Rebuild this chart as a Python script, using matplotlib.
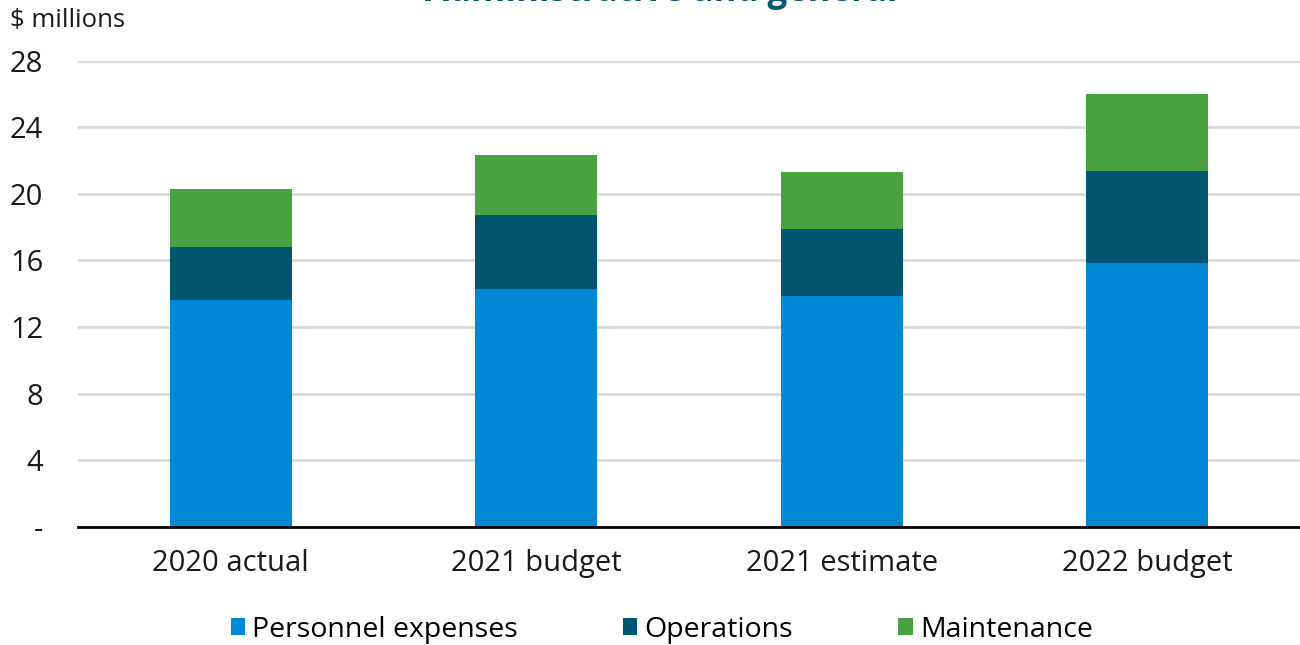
import matplotlib
matplotlib.use("Agg")
import matplotlib.pyplot as plt
import numpy as np

plt.rcParams["font.family"] = ["Open Sans", "DejaVu Sans"]

# budget categories and stacked components ($ millions)
categories = ["2020 actual", "2021 budget", "2021 estimate", "2022 budget"]
personnel = [13.65, 14.30, 13.88, 15.87]
operations = [3.18, 4.41, 4.03, 5.52]
maintenance = [3.48, 3.65, 3.42, 4.63]
series_names = ["Personnel expenses", "Operations", "Maintenance"]
yticks = [0, 4, 8, 12, 16, 20, 24, 28]
ytick_labels = ["-", "4", "8", "12", "16", "20", "24", "28"]

COLORS = ["#0088D6", "#00566F", "#4AA140"]
TITLE_COLOR = "#00566F"

fig = plt.figure(figsize=(13, 6.45), dpi=100)
ax = fig.add_axes([0.06, 0.183, 0.94, 0.723])

x = np.arange(len(categories))
bottom = np.zeros(len(categories))
for vals, name, col in zip([personnel, operations, maintenance], series_names, COLORS):
    ax.bar(x, vals, width=0.4, bottom=bottom, color=col, label=name, zorder=3)
    bottom += np.array(vals)

ax.set_xlim(-0.5, 3.5)
ax.set_ylim(0, 28)
ax.set_yticks(yticks)
ax.set_yticklabels(ytick_labels)
ax.set_xticks(x)
ax.set_xticklabels(categories)
ax.grid(axis="y", color="#D9D9D9", linewidth=2, zorder=0)
for s in ["top", "right", "left"]:
    ax.spines[s].set_visible(False)
ax.spines["bottom"].set_color("#000000")
ax.spines["bottom"].set_linewidth(2)
ax.spines["bottom"].set_zorder(4)
ax.tick_params(axis="both", length=0, labelsize=21, colors="#1a1a1a")
ax.tick_params(axis="y", pad=25)
ax.tick_params(axis="x", pad=16)

fig.text(0.008, 0.968, "$ millions", fontsize=18.5, color="#1a1a1a", va="center", ha="left")
fig.text(0.509, 1.012, "Administrative and general", fontsize=25, fontweight="bold",
         color=TITLE_COLOR, ha="center", va="center")

fig.legend(loc="center", bbox_to_anchor=(0.509, 0.024), ncol=3, frameon=False,
           fontsize=20.5, handlelength=0.5, handleheight=0.5, handletextpad=0.25,
           columnspacing=3.7)

fig.savefig("out.png", dpi=100, facecolor="white")
